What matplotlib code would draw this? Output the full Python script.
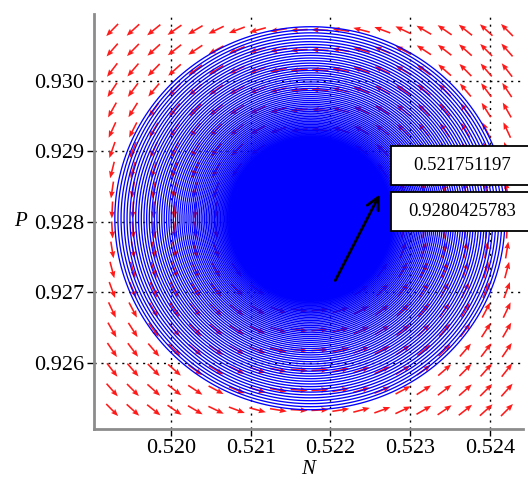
import matplotlib
matplotlib.use("Agg")
import matplotlib.pyplot as plt
from matplotlib.patches import Rectangle
import numpy as np

# values
n_eq = 0.521751197
p_eq = 0.9280425783
box_labels = ['0.521751197', '0.9280425783']

x_ticks = [0.520, 0.521, 0.522, 0.523, 0.524]
y_ticks = [0.926, 0.927, 0.928, 0.929, 0.930]
x_lim = [0.519035, 0.524414]
y_lim = [0.925064, 0.930950]

# direction field grid (20 x 20 arrows)
field_n = [0.519263, 0.524213]
field_p = [0.925333, 0.930723]
field_count = 20

# outer ring of the trajectory and how tightly it winds
ring_a = 0.002475      # half width in N
ring_b = 0.002738      # half height in P
ring_shrink = 0.9840   # radius kept per turn
ring_turns = 400

# annotation arrow (tail, head)
arrow_tail = [0.522044, 0.927135]
arrow_head = [0.522633, 0.928426]

plt.rcParams['font.family'] = ['Liberation Serif', 'DejaVu Serif']

fig = plt.figure(figsize=(5.28, 4.8), dpi=100)
ax = fig.add_axes([94 / 528, 51 / 480, 429 / 528, 415 / 480])

# direction field, pointing around the equilibrium
gn, gp = np.meshgrid(np.linspace(field_n[0], field_n[1], field_count),
                     np.linspace(field_p[0], field_p[1], field_count))
du = -(gp - p_eq) / ring_b
dv = (gn - n_eq) / ring_a
mag = np.hypot(du, dv)
ax.quiver(gn, gp, du / mag, dv / mag, color='#ff1a1a', angles='uv',
          scale_units='dots', scale=1 / 17, units='dots', width=1.6,
          headwidth=3.6, headlength=4.5, headaxislength=4.0,
          pivot='middle', zorder=1)

# trajectory spiralling into the equilibrium
t = np.linspace(0, 2 * np.pi * ring_turns, ring_turns * 220)
r = ring_shrink ** (t / (2 * np.pi))
ax.plot(n_eq + ring_a * r * np.cos(t), p_eq + ring_b * r * np.sin(t),
        color='#0000ff', lw=0.95, zorder=2)

ax.annotate('', xy=arrow_head, xytext=arrow_tail,
            arrowprops=dict(arrowstyle='->', color='black', lw=2.0,
                            mutation_scale=22), zorder=5)

# value boxes at the right edge
for i, lab in enumerate(box_labels):
    top = 146 + i * 46
    fig.patches.append(Rectangle((391 / 528, 1 - (top + 39) / 480), 0.3, 39 / 480,
                                 transform=fig.transFigure, facecolor='white',
                                 edgecolor='black', lw=1.3, zorder=6))
    fig.text(462 / 528, 1 - (top + 19.5) / 480, lab, fontsize=13.5,
             ha='center', va='center', zorder=7)

ax.set_xlim(x_lim)
ax.set_ylim(y_lim)
ax.set_xticks(x_ticks)
ax.set_yticks(y_ticks)
ax.set_xticklabels([f'{v:.3f}' for v in x_ticks])
ax.set_yticklabels([f'{v:.3f}' for v in y_ticks])
ax.tick_params(direction='out', length=5, width=1, colors='black',
               labelsize=16, pad=2)
ax.grid(True, color='black', linestyle=(0, (1.5, 3.5)), lw=1.0)
ax.set_axisbelow(True)

for s in ['top', 'right']:
    ax.spines[s].set_visible(False)
for s in ['left', 'bottom']:
    ax.spines[s].set_color('#8c8c8c')
    ax.spines[s].set_linewidth(2.0)

ax.set_xlabel('N', fontsize=15, style='italic')
ax.set_ylabel('P', fontsize=15, style='italic', rotation=0)
ax.xaxis.set_label_coords(0.5, -0.098)
ax.yaxis.set_label_coords(-0.172, 0.499)
ax.xaxis.label.set_va('center')
ax.yaxis.label.set_va('center')
ax.yaxis.label.set_ha('center')

fig.savefig('out.png', dpi=100)
